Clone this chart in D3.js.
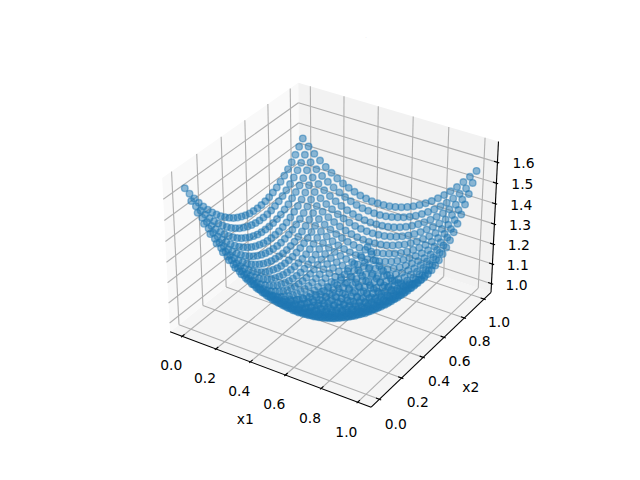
<!DOCTYPE html>
<html><head><meta charset="utf-8"><script src="https://cdn.jsdelivr.net/npm/d3@7"></script>
<style>html,body{margin:0;background:#fff}svg{display:block}text{font-family:"DejaVu Sans";font-size:13.89px;fill:#000}</style></head>
<body><svg width="640" height="480"></svg>
<script>
const gridValues=[0,.0345,.069,.1034,.1379,.1724,.2069,.2414,.2759,.3103,.3448,.3793,.4138,.4483,.4828,.5172,.5517,.5862,.6207,.6552,.6897,.7241,.7586,.7931,.8276,.8621,.8966,.931,.9655,1];
const ticks=[0,.2,.4,.6,.8,1];
const zticks=[1,1.1,1.2,1.3,1.4,1.5,1.6];
const zDataRange=[1.003,1.651];
const zRows=[
[1.640,1.600,1.563,1.528,1.495,1.465,1.437,1.412,1.389,1.369,1.351,1.335,1.322,1.312,1.303,1.297,1.294,1.293,1.294,1.298,1.304,1.313,1.324,1.338,1.354,1.372,1.393,1.416,1.442,1.470],
[1.590,1.551,1.515,1.481,1.449,1.419,1.393,1.368,1.346,1.326,1.309,1.294,1.282,1.272,1.264,1.259,1.256,1.256,1.258,1.262,1.269,1.278,1.290,1.304,1.321,1.340,1.361,1.385,1.411,1.439],
[1.544,1.506,1.470,1.437,1.406,1.377,1.351,1.327,1.305,1.286,1.270,1.256,1.244,1.234,1.227,1.223,1.221,1.221,1.223,1.228,1.236,1.246,1.258,1.273,1.290,1.309,1.331,1.356,1.382,1.411],
[1.502,1.464,1.429,1.396,1.366,1.338,1.312,1.289,1.268,1.250,1.234,1.220,1.209,1.200,1.193,1.189,1.188,1.189,1.192,1.197,1.205,1.216,1.229,1.244,1.262,1.282,1.304,1.329,1.356,1.386],
[1.463,1.426,1.391,1.359,1.329,1.302,1.277,1.254,1.234,1.216,1.200,1.187,1.176,1.168,1.162,1.159,1.158,1.159,1.163,1.169,1.178,1.189,1.202,1.218,1.236,1.256,1.279,1.305,1.332,1.363],
[1.428,1.391,1.357,1.325,1.296,1.269,1.244,1.222,1.202,1.185,1.170,1.157,1.147,1.139,1.134,1.131,1.130,1.132,1.136,1.143,1.152,1.164,1.177,1.194,1.212,1.233,1.257,1.283,1.311,1.342],
[1.396,1.360,1.326,1.295,1.266,1.239,1.215,1.193,1.174,1.157,1.142,1.130,1.121,1.113,1.108,1.106,1.106,1.108,1.113,1.120,1.129,1.141,1.156,1.172,1.191,1.213,1.237,1.263,1.292,1.323],
[1.368,1.332,1.298,1.267,1.239,1.213,1.189,1.167,1.148,1.132,1.118,1.106,1.097,1.090,1.085,1.083,1.084,1.086,1.091,1.099,1.109,1.121,1.136,1.153,1.173,1.195,1.220,1.246,1.276,1.307],
[1.343,1.308,1.274,1.244,1.215,1.189,1.166,1.145,1.126,1.110,1.096,1.085,1.076,1.069,1.065,1.063,1.064,1.067,1.073,1.081,1.091,1.104,1.119,1.137,1.157,1.180,1.205,1.232,1.262,1.294],
[1.322,1.287,1.254,1.223,1.195,1.169,1.146,1.125,1.107,1.091,1.077,1.066,1.058,1.051,1.048,1.046,1.047,1.051,1.057,1.065,1.076,1.089,1.105,1.123,1.144,1.167,1.192,1.220,1.250,1.283],
[1.305,1.269,1.236,1.206,1.178,1.153,1.129,1.109,1.091,1.075,1.062,1.051,1.042,1.036,1.033,1.032,1.033,1.037,1.043,1.052,1.063,1.077,1.093,1.112,1.133,1.156,1.182,1.210,1.241,1.274],
[1.291,1.255,1.223,1.192,1.164,1.139,1.116,1.095,1.077,1.062,1.049,1.038,1.030,1.024,1.021,1.020,1.022,1.026,1.033,1.042,1.053,1.067,1.084,1.103,1.124,1.148,1.174,1.203,1.234,1.268],
[1.280,1.245,1.212,1.182,1.154,1.128,1.106,1.085,1.067,1.052,1.039,1.028,1.020,1.015,1.012,1.011,1.013,1.017,1.024,1.034,1.046,1.060,1.077,1.096,1.118,1.142,1.169,1.198,1.230,1.264],
[1.273,1.238,1.205,1.175,1.147,1.121,1.098,1.078,1.060,1.045,1.032,1.021,1.013,1.008,1.005,1.005,1.007,1.011,1.019,1.028,1.040,1.055,1.072,1.092,1.114,1.139,1.166,1.196,1.228,1.263],
[1.270,1.235,1.201,1.171,1.143,1.117,1.094,1.074,1.056,1.040,1.028,1.017,1.009,1.004,1.001,1.001,1.003,1.008,1.016,1.025,1.038,1.053,1.070,1.090,1.113,1.138,1.166,1.196,1.228,1.264],
[1.270,1.235,1.201,1.170,1.142,1.116,1.093,1.073,1.055,1.039,1.026,1.016,1.008,1.003,1.000,1.000,1.003,1.008,1.015,1.025,1.038,1.053,1.071,1.091,1.114,1.140,1.168,1.198,1.231,1.267],
[1.273,1.238,1.205,1.174,1.145,1.119,1.096,1.075,1.057,1.041,1.028,1.018,1.010,1.004,1.002,1.002,1.004,1.009,1.017,1.027,1.040,1.056,1.074,1.095,1.118,1.144,1.172,1.203,1.237,1.273],
[1.282,1.245,1.211,1.180,1.151,1.125,1.101,1.080,1.061,1.046,1.033,1.022,1.014,1.009,1.006,1.006,1.009,1.014,1.022,1.032,1.045,1.061,1.079,1.100,1.124,1.150,1.179,1.210,1.245,1.281],
[1.293,1.256,1.221,1.189,1.160,1.133,1.109,1.088,1.069,1.053,1.040,1.029,1.021,1.016,1.013,1.013,1.016,1.021,1.029,1.040,1.053,1.069,1.087,1.109,1.133,1.159,1.188,1.220,1.255,1.292],
[1.308,1.270,1.235,1.202,1.172,1.145,1.121,1.099,1.080,1.064,1.051,1.040,1.031,1.026,1.023,1.023,1.026,1.031,1.039,1.050,1.063,1.079,1.098,1.119,1.144,1.171,1.200,1.232,1.267,1.305],
[1.326,1.287,1.252,1.218,1.188,1.161,1.136,1.114,1.094,1.078,1.064,1.053,1.044,1.039,1.036,1.036,1.038,1.043,1.051,1.062,1.076,1.092,1.111,1.133,1.157,1.184,1.214,1.247,1.282,1.321],
[1.348,1.308,1.272,1.238,1.207,1.179,1.154,1.131,1.111,1.094,1.080,1.069,1.060,1.054,1.051,1.051,1.053,1.058,1.067,1.077,1.091,1.107,1.127,1.148,1.173,1.201,1.231,1.264,1.300,1.339],
[1.373,1.333,1.296,1.261,1.230,1.201,1.175,1.152,1.131,1.114,1.099,1.087,1.079,1.072,1.069,1.069,1.071,1.076,1.084,1.095,1.109,1.125,1.145,1.167,1.192,1.219,1.250,1.284,1.320,1.359],
[1.402,1.361,1.323,1.287,1.255,1.226,1.199,1.175,1.154,1.136,1.121,1.109,1.100,1.093,1.090,1.089,1.091,1.096,1.104,1.115,1.129,1.146,1.165,1.187,1.213,1.241,1.272,1.306,1.342,1.382],
[1.434,1.392,1.353,1.317,1.284,1.254,1.226,1.202,1.181,1.162,1.146,1.134,1.124,1.117,1.113,1.112,1.114,1.119,1.127,1.138,1.152,1.168,1.188,1.211,1.236,1.264,1.296,1.330,1.367,1.407],
[1.470,1.427,1.387,1.350,1.316,1.285,1.257,1.232,1.210,1.190,1.174,1.161,1.151,1.144,1.140,1.138,1.140,1.145,1.153,1.163,1.177,1.194,1.213,1.236,1.262,1.290,1.322,1.357,1.394,1.435],
[1.510,1.466,1.425,1.386,1.351,1.319,1.290,1.265,1.242,1.222,1.205,1.191,1.181,1.173,1.169,1.167,1.168,1.173,1.181,1.191,1.205,1.222,1.241,1.264,1.290,1.319,1.351,1.386,1.424,1.465],
[1.553,1.508,1.465,1.426,1.390,1.357,1.327,1.301,1.277,1.256,1.239,1.225,1.213,1.205,1.200,1.198,1.199,1.204,1.211,1.222,1.235,1.252,1.272,1.295,1.321,1.350,1.382,1.418,1.456,1.498],
[1.600,1.553,1.510,1.469,1.432,1.398,1.367,1.340,1.315,1.294,1.276,1.261,1.249,1.240,1.235,1.232,1.233,1.237,1.244,1.255,1.268,1.285,1.305,1.328,1.354,1.383,1.416,1.452,1.491,1.533],
[1.650,1.602,1.557,1.516,1.477,1.442,1.410,1.382,1.356,1.334,1.315,1.299,1.287,1.278,1.272,1.269,1.270,1.273,1.280,1.290,1.304,1.320,1.340,1.363,1.390,1.419,1.452,1.488,1.527,1.570]
];
const mx=.05, mz=.05*(zDataRange[1]-zDataRange[0]);
const xl=[0-mx,1+mx], zl=[zDataRange[0]-mz,zDataRange[1]+mz];
const padx=(xl[1]-xl[0])/48, padz=(zl[1]-zl[0])/48;
const sx=d3.scaleLinear().domain([-.095,.09]).range([143.2,512.8]);
const sy=d3.scaleLinear().domain([-.095,.09]).range([427.2,57.6]);
const el=31.5*Math.PI/180,az=-57.5*Math.PI/180,dist=10;
const asp=[4,4,3],nr=Math.hypot(...asp),k=1.8294640721620434/nr;
const box=asp.map(d=>d*k);
const R=box.map(d=>d/2);
const wv=[Math.cos(el)*Math.cos(az),Math.cos(el)*Math.sin(az),Math.sin(el)];
const E=R.map((r,i)=>r+dist*wv[i]);
const cross=(a,b)=>[a[1]*b[2]-a[2]*b[1],a[2]*b[0]-a[0]*b[2],a[0]*b[1]-a[1]*b[0]];
const dot=(a,b)=>a[0]*b[0]+a[1]*b[1]+a[2]*b[2];
const nrm=a=>{const l=Math.hypot(...a);return a.map(d=>d/l)};
const u=nrm(cross([0,0,1],wv)),v=cross(wv,u);
const bx=d3.scaleLinear().domain(xl).range([0,box[0]]);
const by=d3.scaleLinear().domain(xl).range([0,box[1]]);
const bz=d3.scaleLinear().domain(zl).range([0,box[2]]);
function P(x,y,z){const p=[bx(x),by(y),bz(z)].map((d,i)=>d-E[i]);const w=-dot(wv,p);return [sx(dot(u,p)/w),sy(dot(v,p)/w),w]}
const svg=d3.select("svg");
const L=(a,b,c,w)=>svg.append("line").attr("x1",a[0]).attr("y1",a[1]).attr("x2",b[0]).attr("y2",b[1]).attr("stroke",c).attr("stroke-width",w);
const X0=xl[0]-padx,X1=xl[1]+padx,Z0=zl[0]-padz,Z1=zl[1]+padz;
const pane=(pts,c)=>svg.append("polygon").attr("points",pts.map(p=>P(...p).slice(0,2).join(",")).join(" ")).attr("fill",c);
pane([[X0,X0,Z0],[X1,X0,Z0],[X1,X1,Z0],[X0,X1,Z0]],"#f5f5f5");
pane([[X0,X0,Z0],[X0,X1,Z0],[X0,X1,Z1],[X0,X0,Z1]],"#f9f9f9");
pane([[X0,X1,Z0],[X1,X1,Z0],[X1,X1,Z1],[X0,X1,Z1]],"#f2f2f2");
const gc="#b0b0b0",lw=1.11;
ticks.forEach(t=>{L(P(t,X0,Z0),P(t,X1,Z0),gc,lw);L(P(t,X1,Z0),P(t,X1,Z1),gc,lw);L(P(X0,t,Z0),P(X1,t,Z0),gc,lw);L(P(X0,t,Z0),P(X0,t,Z1),gc,lw)});
zticks.forEach(t=>{L(P(X0,X0,t),P(X0,X1,t),gc,lw);L(P(X0,X1,t),P(X1,X1,t),gc,lw)});
L(P(X0,X0,Z0),P(X1,X0,Z0),"#000",lw);L(P(X1,X0,Z0),P(X1,X1,Z0),"#000",lw);L(P(X1,X1,Z0),P(X1,X1,Z1),"#000",lw);
const T=(p,s)=>svg.append("text").attr("x",p[0]).attr("y",p[1]).attr("text-anchor","middle").attr("dominant-baseline","central").text(s);
const dxp=(X1-X0)/12;
ticks.forEach(t=>{
 L(P(t,X0+.2*dxp,Z0),P(t,X0-.1*dxp,Z0),"#000",lw);
 T(P(t,X0-.097,Z0-.095),t.toFixed(1));
 L(P(X1-.2*dxp,t,Z0),P(X1+.1*dxp,t,Z0),"#000",lw);
 T(P(X1+.09,t,Z0-.09),t.toFixed(1));
});
zticks.forEach(t=>{L(P(X1-.2*dxp,X1,t),P(X1+.1*dxp,X1,t),"#000",lw);T(P(X1+.1,X1+.08,t-.012),t.toFixed(1));});
T(P(.54,X0-.25,Z0-.105),"x1");T(P(X1+.21,.5,Z0-.13),"x2");
svg.append("text").attr("x",366).attr("y",38).attr("text-anchor","middle").style("font-size","3px").style("fill","#555").text(".");
const pts=[];gridValues.forEach((a,i)=>gridValues.forEach((b,j)=>pts.push(P(a,b,zRows[i][j]))));
pts.sort((a,b)=>b[2]-a[2]);
svg.selectAll("circle").data(pts).join("circle").attr("cx",d=>d[0]).attr("cy",d=>d[1]).attr("r",3.3).attr("fill","#1f77b4").attr("fill-opacity",.5).attr("stroke","#1f77b4").attr("stroke-opacity",.5).attr("stroke-width",1.4);
</script></body></html>
